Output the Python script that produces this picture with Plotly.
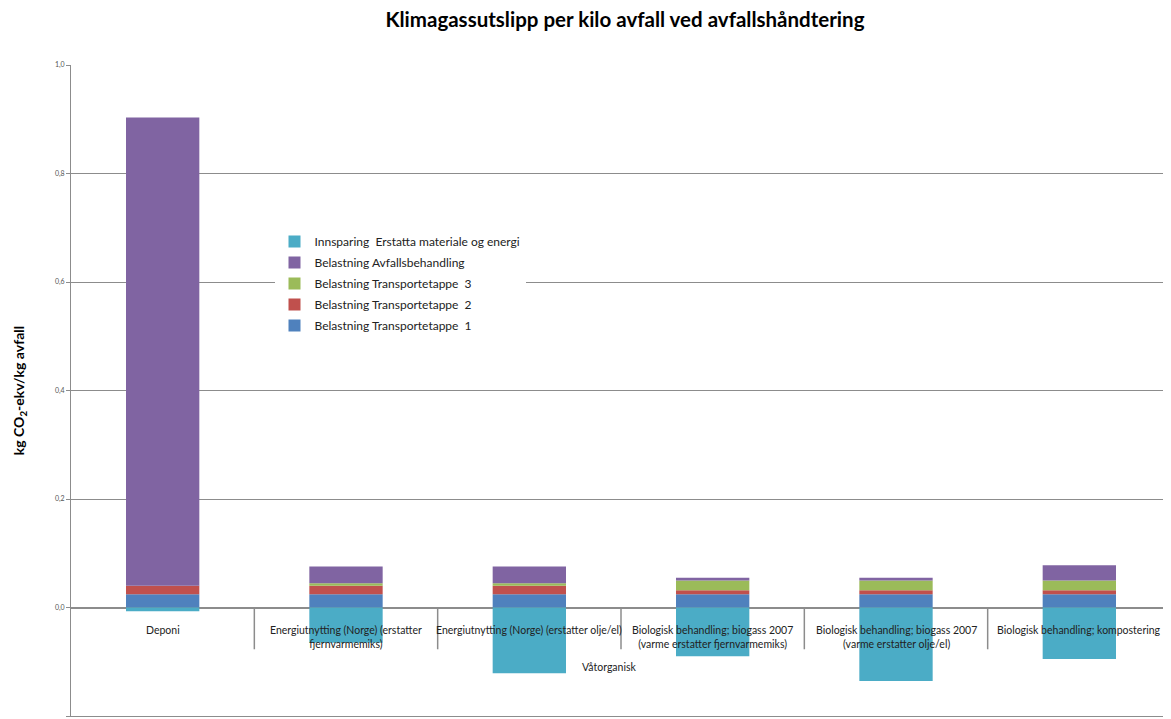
import plotly.graph_objects as go

# Våtorganisk avfall - scenarier
group = "Våtorganisk"
categories = [
    "Deponi",
    "Energiutnytting (Norge) (erstatter<br>fjernvarmemiks)",
    "Energiutnytting (Norge) (erstatter olje/el)",
    "Biologisk behandling; biogass 2007<br>(varme erstatter fjernvarmemiks)",
    "Biologisk behandling; biogass 2007<br>(varme erstatter olje/el)",
    "Biologisk behandling; kompostering",
]

# kg CO2-ekv/kg avfall
transport1 = [0.0245, 0.0245, 0.0245, 0.0245, 0.0245, 0.0245]
transport2 = [0.0155, 0.0155, 0.0155, 0.0075, 0.0075, 0.0075]
transport3 = [0.0, 0.0047, 0.0047, 0.018, 0.018, 0.018]
avfallsbehandling = [0.863, 0.0307, 0.0307, 0.005, 0.005, 0.0278]
innsparing = [-0.0068, -0.065, -0.121, -0.09, -0.1355, -0.095]

series = [
    ("Belastning Transportetappe  1", transport1, "#4F81BD"),
    ("Belastning Transportetappe  2", transport2, "#C0504D"),
    ("Belastning Transportetappe  3", transport3, "#9BBB59"),
    ("Belastning Avfallsbehandling", avfallsbehandling, "#8064A2"),
    ("Innsparing  Erstatta materiale og energi", innsparing, "#4BACC6"),
]

fig = go.Figure()
for i, (name, vals, color) in enumerate(series):
    # stack bottom-up, legend top-down (last series first)
    fig.add_trace(go.Bar(x=categories, y=vals, name=name, width=0.4, legendgroup=name,
                         legendrank=len(series) - i,
                         marker=dict(color=color, line=dict(width=0))))

font = "Lato, 'Open Sans', sans-serif"
grid = "#8C8C8C"

# page body has a default 8px margin, so the figure is a bit smaller than the window
fig.update_layout(
    width=1163, height=711,
    margin=dict(l=63, r=0, t=57, b=3),
    barmode="relative",
    separators=", ",
    plot_bgcolor="white", paper_bgcolor="white",
    font=dict(family=font, size=11, color="#222"),
    title=dict(text="<b>Klimagassutslipp per kilo avfall ved avfallshåndtering</b>",
               x=0.5305, xanchor="center", y=0.983, yanchor="middle",
               font=dict(size=20.5, color="#000")),
    legend=dict(x=0.185, y=0.751, xanchor="left", yanchor="top",
                traceorder="grouped", tracegroupgap=2, bgcolor="white",
                font=dict(size=12, color="#222")),
    showlegend=True,
)

fig.update_yaxes(range=[-0.2, 1.0], dtick=0.2, tickformat=".1f",
                 showgrid=True, gridcolor=grid, gridwidth=1,
                 zeroline=True, zerolinecolor=grid,
                 showline=True, linecolor=grid, ticks="outside", ticklen=4,
                 tickcolor=grid, tickfont=dict(size=7, color="#555"),
                 title=dict(text="<b>kg CO<sub>2</sub>-ekv/kg avfall</b>",
                            font=dict(size=14, color="#000"), standoff=26))

fig.update_xaxes(showticklabels=False, showline=True, linecolor=grid, showgrid=False,
                 ticks="", range=[-0.5, len(categories) - 0.5])

# category labels sit under the zero line, as in Excel
for cat in categories:
    fig.add_annotation(x=cat, y=0, text=cat, showarrow=False, yanchor="top",
                       yshift=-14, font=dict(size=10.5, color="#222"))

# dividers between categories
for i in range(len(categories) - 1):
    fig.add_shape(type="line", x0=i + 0.5, x1=i + 0.5, y0=0, y1=-0.077,
                  line=dict(color=grid, width=1.5))

fig.add_annotation(x=0.489, xref="paper", y=-0.11, text=group, showarrow=False,
                   font=dict(size=10.5, color="#222"))

# white box behind legend, hides the gridline like the original
fig.add_shape(type="rect", xref="paper", yref="paper", x0=0.164, x1=0.453,
              y0=0.582, y1=0.745, fillcolor="white", line=dict(width=0), layer="between")

fig.write_html("out.html")
